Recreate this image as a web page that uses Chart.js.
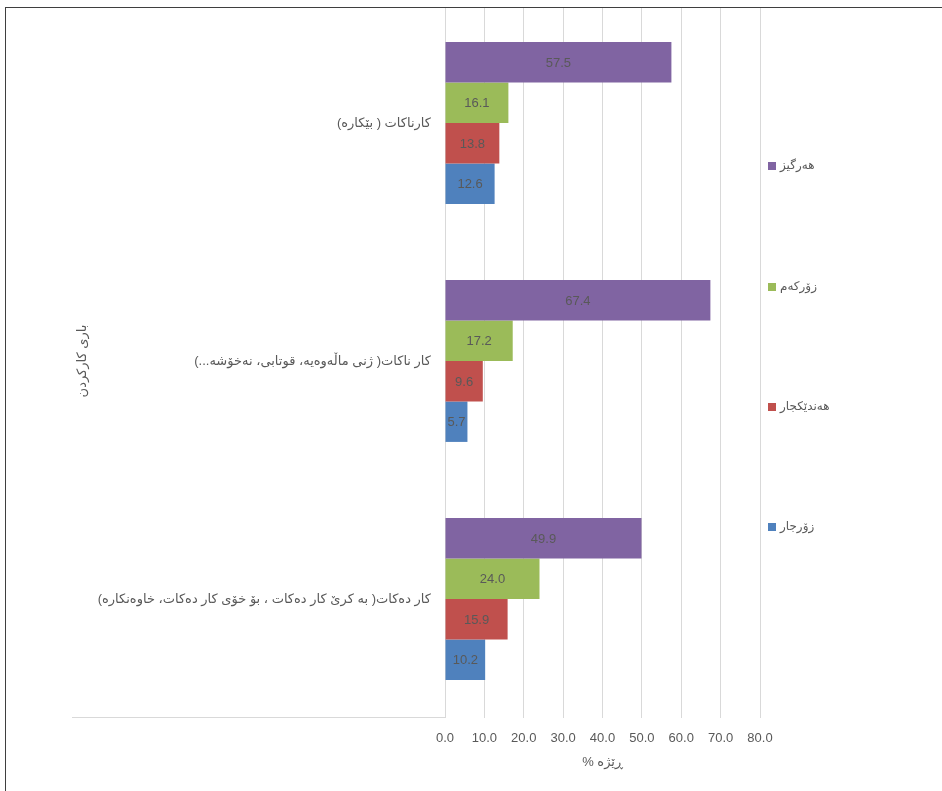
<!DOCTYPE html>
<html><head><meta charset="utf-8">
<script src="https://cdn.jsdelivr.net/npm/chart.js@4/dist/chart.umd.min.js"></script>
<style>
html,body{margin:0;padding:0;background:#fff;overflow:hidden}
#wrap{position:relative;width:942px;height:791px}
#c{position:absolute;left:0;top:0}
#cover{position:absolute;left:0;top:0;width:942px;height:7px;background:#fff}
#frame{position:absolute;left:5px;top:7px;width:1000px;height:1000px;border-left:1px solid #3f3f3f;border-top:1px solid #3f3f3f;pointer-events:none}
</style></head><body>
<div id="wrap"><canvas id="c" width="942" height="791" dir="rtl"></canvas><div id="cover"></div><div id="frame"></div></div>
<script>
const categories = [
  'کارناکات ( بێکارە)',
  'کار ناکات( ژنی ماڵەوەیە، قوتابی، نەخۆشە...)',
  'کار دەکات( بە کرێ کار دەکات ، بۆ خۆی کار دەکات، خاوەنکارە)'
];
const seriesNames = ['هەرگیز', 'زۆرکەم', 'هەندێکجار', 'زۆرجار'];
const never = [57.5, 67.4, 49.9];
const rarely = [16.1, 17.2, 24.0];
const sometimes = [13.8, 9.6, 15.9];
const often = [12.6, 5.7, 10.2];
const xTickMin = 0, xTickMax = 80, xTickStep = 10;
const yTitle = 'باری کارکردن';
const xTitle = 'ڕێژە %';

const colors = ['#8064A2', '#9BBB59', '#C0504D', '#4F81BD'];
const FONT = "'Liberation Sans','DejaVu Sans',sans-serif";
const TXT = '#595959';

const dataLabels = {
  id: 'dataLabels',
  afterDatasetsDraw(chart) {
    const ctx = chart.ctx;
    ctx.save();
    ctx.font = '13px ' + FONT;
    ctx.fillStyle = TXT;
    ctx.textAlign = 'center';
    ctx.textBaseline = 'middle';
    ctx.direction = 'ltr';
    chart.data.datasets.forEach((ds, i) => {
      const meta = chart.getDatasetMeta(i);
      meta.data.forEach((el, j) => {
        const p = el.getProps(['x', 'y', 'base'], true);
        ctx.fillText(ds.data[j].toFixed(1), (p.x + p.base) / 2, p.y + 1);
      });
    });
    ctx.restore();
  }
};

const customLegend = {
  id: 'customLegend',
  afterDraw(chart) {
    const ctx = chart.ctx;
    const ys = [166, 287, 407, 527];
    ctx.save();
    ctx.font = '12px ' + FONT;
    ctx.textAlign = 'left';
    ctx.textBaseline = 'middle';
    chart.data.datasets.forEach((ds, i) => {
      ctx.fillStyle = ds.backgroundColor;
      ctx.fillRect(768, ys[i] - 4, 8, 8);
      ctx.fillStyle = TXT;
      ctx.fillText(ds.label, 780, ys[i]);
    });
    ctx.restore();
  }
};

const catAxisLine = {
  id: 'catAxisLine',
  afterDraw(chart) {
    const ctx = chart.ctx, y = chart.scales.y, a = chart.chartArea;
    ctx.save();
    ctx.strokeStyle = '#d9d9d9';
    ctx.lineWidth = 1;
    ctx.beginPath();
    ctx.moveTo(y.left, a.bottom - 0.5);
    ctx.lineTo(a.left, a.bottom - 0.5);
    ctx.stroke();
    ctx.restore();
  }
};

const datasets = [never, rarely, sometimes, often].map((d, i) => ({
  label: seriesNames[i],
  data: d,
  backgroundColor: colors[i],
  borderWidth: 0,
  barPercentage: 1,
  categoryPercentage: 0.68
}));

new Chart(document.getElementById('c'), {
  type: 'bar',
  data: { labels: categories, datasets },
  options: {
    indexAxis: 'y',
    responsive: false,
    animation: false,
    layout: { padding: { left: 72, right: 182, top: 4, bottom: 0 } },
    plugins: { legend: { display: false }, tooltip: { enabled: false } },
    scales: {
      x: {
        min: xTickMin, max: xTickMax,
        border: { display: false },
        grid: { color: '#d9d9d9', lineWidth: 1, drawTicks: false },
        ticks: { stepSize: xTickStep, padding: 13, color: TXT, font: { family: FONT, size: 13 },
          callback: v => Number(v).toFixed(1) },
        title: { display: true, text: xTitle, color: TXT, font: { family: FONT, size: 13 }, padding: { top: 0, bottom: 21 } },
        afterFit(s) { s.height = 73; s.paddingLeft = 0; s.paddingRight = 0; }
      },
      y: {
        border: { display: false },
        grid: { display: false, drawTicks: false },
        ticks: { padding: 14, color: TXT, font: { family: FONT, size: 13 } },
        title: { display: true, text: yTitle, color: TXT, font: { family: FONT, size: 13 }, padding: { top: 3, bottom: 0 } },
        afterFit(s) { s.width = 373; s.paddingTop = 0; s.paddingBottom = 0; }
      }
    }
  },
  plugins: [dataLabels, customLegend, catAxisLine]
});
</script>
</body></html>
